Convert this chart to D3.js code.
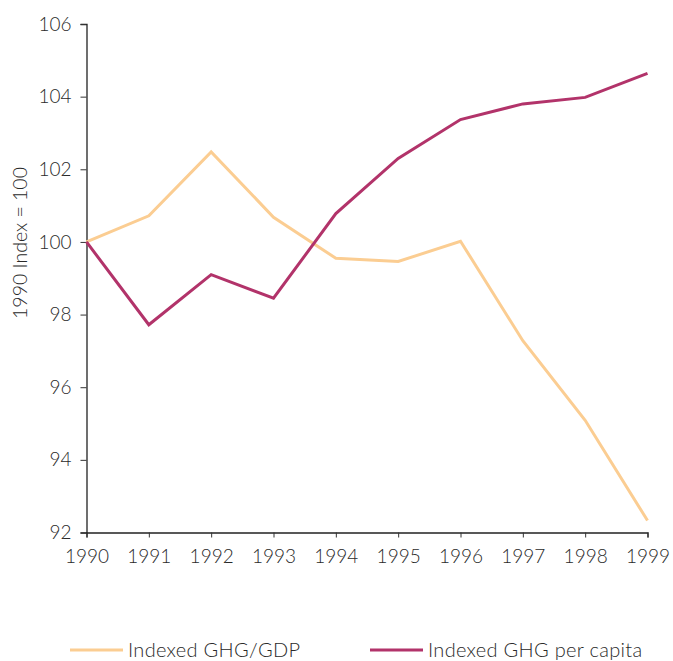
<!DOCTYPE html>
<html>
<head>
<meta charset="utf-8">
<script src="https://cdn.jsdelivr.net/npm/d3@7"></script>
<style>
  body { margin: 0; background: #fff; }
  text { font-family: Lato, "Noto Sans", sans-serif; font-weight: 300; fill: #2a2a2a; }
</style>
</head>
<body>
<script>
// data
const years = [1990, 1991, 1992, 1993, 1994, 1995, 1996, 1997, 1998, 1999];
const ghgPerGdp = [100, 100.72, 102.48, 100.68, 99.55, 99.46, 100.02, 97.28, 95.09, 92.33];
const ghgPerCapita = [100, 97.72, 99.1, 98.45, 100.78, 102.3, 103.37, 103.8, 103.98, 104.64];
const yTicks = [92, 94, 96, 98, 100, 102, 104, 106];

const w = 673, h = 661;
const m = { left: 86.5, right: 647.5, top: 24, bottom: 532.5 };

const svg = d3.select('body').append('svg')
    .attr('width', w)
    .attr('height', h);

const x = d3.scaleLinear().domain([1990, 1999]).range([m.left, m.right]);
const y = d3.scaleLinear().domain([92, 106]).range([m.bottom, m.top]);

// y axis
const yAxis = svg.append('g')
    .attr('transform', `translate(${m.left},0)`)
    .call(d3.axisLeft(y).tickValues(yTicks).tickSize(6).tickPadding(9));
yAxis.selectAll('text').style('font-size', '19px');

// x axis
const xAxis = svg.append('g')
    .attr('transform', `translate(0,${m.bottom})`)
    .call(d3.axisBottom(x).tickValues(years).tickFormat(d3.format('d')).tickSize(5).tickPadding(12));
xAxis.selectAll('text').style('font-size', '19px');

svg.selectAll('.domain').attr('stroke', '#222').attr('stroke-width', 1.3);
svg.selectAll('.tick line').attr('stroke', '#333');

svg.append('text')
    .attr('transform', `translate(27,243) rotate(-90)`)
    .attr('text-anchor', 'middle')
    .style('font-size', '19.5px')
    .text('1990 Index = 100');

const line = d3.line().x((d, i) => x(years[i])).y(d => y(d));

const series = [
    { name: 'Indexed GHG/GDP', values: ghgPerGdp, color: '#FBCD92', lx: 70 },
    { name: 'Indexed GHG per capita', values: ghgPerCapita, color: '#B2336A', lx: 370 }
];

svg.selectAll('path.series')
    .data(series)
    .enter()
    .append('path')
    .attr('class', 'series')
    .attr('d', d => line(d.values))
    .attr('fill', 'none')
    .attr('stroke', d => d.color)
    .attr('stroke-width', 3);

// legend
const legend = svg.selectAll('g.legend')
    .data(series)
    .enter()
    .append('g')
    .attr('transform', d => `translate(${d.lx},650)`);

legend.append('line')
    .attr('x1', 0).attr('x2', 53)
    .attr('stroke', d => d.color)
    .attr('stroke-width', 3);

legend.append('text')
    .attr('x', 58)
    .attr('y', 7)
    .style('font-size', '20px')
    .style('letter-spacing', '0.3px')
    .text(d => d.name);
</script>
</body>
</html>
